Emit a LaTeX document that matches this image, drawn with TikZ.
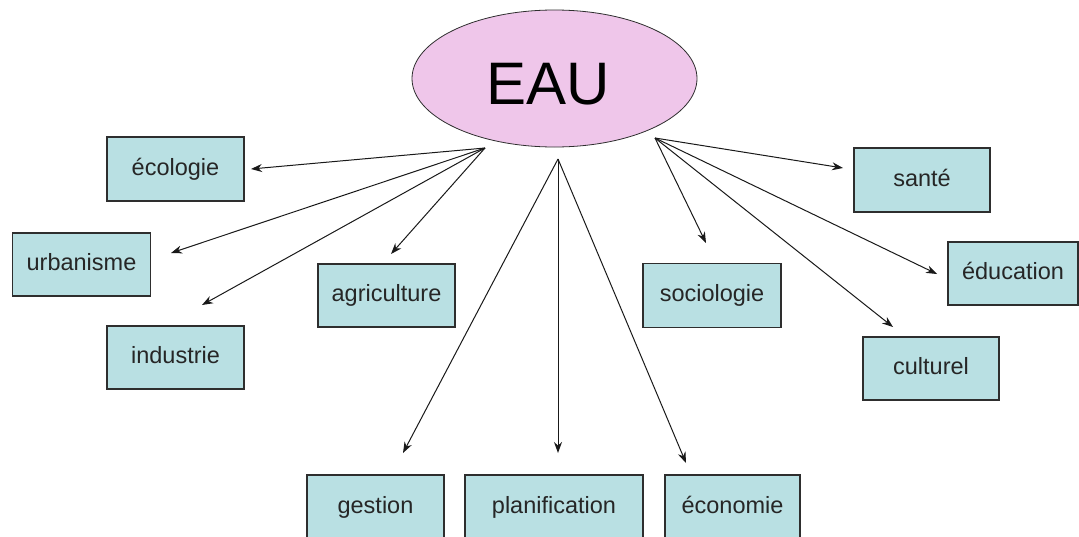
\documentclass[tikz,border=0pt]{standalone}
\usepackage{fontspec}
\setmainfont{Liberation Sans}
\usetikzlibrary{arrows.meta,shapes.geometric}
\definecolor{boxfill}{HTML}{B9E0E3}
\definecolor{ellfill}{HTML}{EFC6EA}
\definecolor{edge}{HTML}{2E2E2E}
\tikzset{
  topic/.style={draw=edge, line width=1.1pt, fill=boxfill, inner sep=0pt,
    text height=17pt, text depth=5pt,
    font=\fontsize{23.5}{26}\selectfont, text=black!85},
  link/.style={line width=1pt, draw=black!90, -{Stealth[length=11pt,width=8pt]}}
}
\begin{document}
\begin{tikzpicture}[x=1pt,y=-1pt]
\useasboundingbox (0,0) rectangle (1079,536);
\node[ellipse, draw=edge, line width=0.8pt, fill=ellfill, minimum width=285pt, minimum height=137pt, inner sep=0pt] (eau) at (554.5,78.5) {};
\node[font=\fontsize{60}{62}\selectfont, inner sep=0pt] (eaulabel) at (548,84) {EAU};

\node[topic, minimum width=137pt, minimum height=64pt] (ecologie) at (175.5,169) {écologie};
\node[topic, minimum width=138pt, minimum height=63pt] (urbanisme) at (81.5,264.5) {urbanisme};
\node[topic, minimum width=137pt, minimum height=63pt] (industrie) at (175.5,357.5) {industrie};
\node[topic, minimum width=137pt, minimum height=63pt] (agriculture) at (386.5,295.5) {agriculture};
\node[topic, minimum width=137pt, minimum height=64pt] (gestion) at (375.5,507) {gestion};
\node[topic, minimum width=178pt, minimum height=64pt] (planification) at (554,507) {planification};
\node[topic, minimum width=135pt, minimum height=64pt] (economie) at (732.5,507) {économie};
\node[topic, minimum width=138pt, minimum height=64pt] (sociologie) at (712,295.5) {sociologie};
\node[topic, minimum width=136pt, minimum height=64pt] (sante) at (922,180) {santé};
\node[topic, minimum width=130pt, minimum height=63pt] (education) at (1013,273.5) {éducation};
\node[topic, minimum width=136pt, minimum height=63pt] (culturel) at (931,368.5) {culturel};

\coordinate (oL) at (485,148);
\coordinate (oC) at (558,159);
\coordinate (oR) at (655,138);

\coordinate (tEco) at (251,169);
\coordinate (tUrb) at (171,253);
\coordinate (tInd) at (202,305);
\coordinate (tAgr) at (391,254);
\coordinate (tGes) at (403,453);
\coordinate (tPla) at (558,453);
\coordinate (tEcn) at (686,463);
\coordinate (tSoc) at (706,243);
\coordinate (tSan) at (843,168);
\coordinate (tEdu) at (937,274);
\coordinate (tCul) at (893,327);

\draw[link] (oL) -- (tEco);
\draw[link] (oL) -- (tUrb);
\draw[link] (oL) -- (tInd);
\draw[link] (oL) -- (tAgr);
\draw[link] (oC) -- (tGes);
\draw[link] (oC) -- (tPla);
\draw[link] (oC) -- (tEcn);
\draw[link] (oR) -- (tSoc);
\draw[link] (oR) -- (tSan);
\draw[link] (oR) -- (tEdu);
\draw[link] (oR) -- (tCul);
\end{tikzpicture}
\end{document}
